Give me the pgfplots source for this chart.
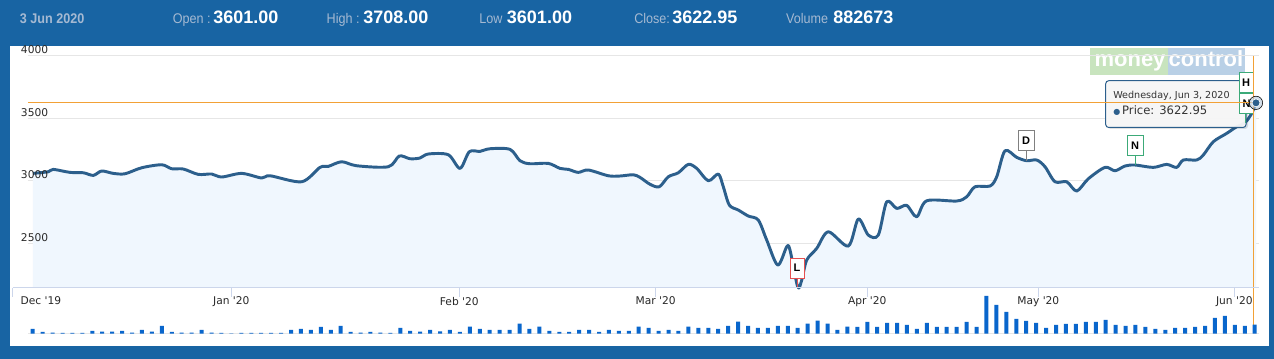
\documentclass[border=0pt]{standalone}
\usepackage{pgfplots}
\pgfplotsset{compat=1.18}
\usepackage{pgfplotstable}
\usepackage{fontspec}
\setmainfont{DejaVu Sans}
\newfontfamily\axf{DejaVu Sans}
\newfontfamily\hdr[FakeStretch=0.9]{Liberation Sans}
\newfontfamily\hdrv{Liberation Sans}
\newfontfamily\flagf{Liberation Sans}
\definecolor{frame}{RGB}{24,100,163}
\definecolor{hlab}{RGB}{165,185,210}
\definecolor{gridc}{RGB}{230,230,230}
\definecolor{axc}{RGB}{204,214,235}
\definecolor{areac}{RGB}{240,247,254}
\definecolor{linec}{RGB}{44,95,140}
\definecolor{volc}{RGB}{9,102,204}
\definecolor{orangec}{RGB}{242,161,54}
\definecolor{labc}{RGB}{40,40,40}
\definecolor{tipc}{RGB}{51,51,51}
\definecolor{tipbg}{RGB}{248,248,248}
\definecolor{flagr}{RGB}{230,80,80}
\definecolor{flagg}{RGB}{60,170,120}
\definecolor{flagd}{RGB}{128,128,128}
\definecolor{wmg}{RGB}{200,228,190}
\definecolor{wmb}{RGB}{185,208,230}
\definecolor{halo}{RGB}{175,195,215}

\pgfplotstableread{
px p
33 3059
48.3 3072
53.3 3091
70 3067
83.3 3064
93.3 3043
101.7 3078
113.3 3059
125 3056
141.7 3104
161.7 3128
171.7 3096
183.3 3094
198.3 3051
211.7 3054
221.7 3030
241.7 3059
261.7 3022
270 3040
301.7 2992
320 3107
328.3 3115
341.7 3152
356.7 3120
388.3 3112
399.3 3198
410 3176
420 3182
428.3 3214
448.3 3208
460 3099
469.3 3232
480 3235
490 3256
510 3251
520 3160
530 3136
548.3 3139
560 3099
568.3 3091
578.3 3067
588.3 3086
608.3 3040
620 3038
633.3 3048
640 3027
650 2972
659.3 2952
668.3 3032
678.3 3064
688.3 3131
696.7 3099
708.3 3000
718.3 3054
723.3 2952
729.3 2806
738.3 2766
748.3 2718
758.3 2686
766.7 2526
777.7 2326
786.7 2472
790 2446
797.7 2152
801.7 2206
806.7 2366
816.7 2459
828.3 2592
848.3 2478
858.3 2694
868.3 2566
878.3 2566
886.7 2832
896.7 2779
906.7 2803
916.7 2712
926.7 2840
956.7 2838
966.7 2872
975 2952
990 2958
996.7 3032
1005 3240
1016.7 3187
1026.7 3160
1036.7 3166
1045 3112
1055 2992
1066.7 2992
1076.7 2918
1088.3 3016
1105 3107
1115 3080
1125 3118
1135 3126
1153.3 3107
1166.7 3131
1176.7 3107
1183.3 3166
1196.7 3166
1203.3 3206
1213.3 3312
1226.7 3379
1236.7 3432
1245 3464
1251.7 3539
1256 3623
}\price

\pgfplotstableread{
k v
0 461
1 167
2 98
3 69
4 69
5 69
6 265
7 196
8 196
9 265
10 98
11 363
12 196
13 755
14 167
15 98
16 98
17 363
18 98
19 69
20 29
21 69
22 69
23 69
24 69
25 69
26 363
27 461
28 363
29 657
30 363
31 755
32 167
33 98
34 167
35 98
36 69
37 559
38 265
39 196
40 363
41 225
42 363
43 167
44 686
45 461
46 363
47 363
48 363
49 980
50 461
51 686
52 265
53 167
54 167
55 363
56 363
57 167
58 363
59 265
60 265
61 686
62 559
63 265
64 363
65 265
66 686
67 559
68 559
69 461
70 755
71 1176
72 755
73 559
74 559
75 755
76 755
77 559
78 980
79 1274
80 980
81 363
82 686
83 657
84 1147
85 657
86 1049
87 1049
88 853
89 461
90 1049
91 657
92 657
93 657
94 1147
95 657
96 3695
97 2813
98 2127
99 1441
100 1245
101 1049
102 559
103 853
104 951
105 951
106 1147
107 1147
108 1343
109 853
110 755
111 853
112 657
113 461
114 363
115 559
116 559
117 657
118 755
119 1539
120 1735
121 853
122 755
123 883
}\vol

\begin{document}
\begin{tikzpicture}
\begin{scope}[x=0.75pt,y=-0.75pt]
\path[use as bounding box] (0,0) rectangle (1274,359);
\fill[frame] (0,0) rectangle (1274,359);
\fill[white] (10,46) rectangle (1269,346);
% header
\node[anchor=base west, inner sep=0pt, text=hlab, font=\hdr\bfseries\fontsize{10.5}{12}\selectfont] at (19.6,23.5) {3 Jun 2020};
\node[anchor=base west, inner sep=0pt, text=hlab, font=\hdr\fontsize{10.5}{12}\selectfont] at (172.6,23.5) {Open :};
\node[anchor=base west, inner sep=0pt, text=white, font=\hdrv\bfseries\fontsize{13.5}{16}\selectfont] at (213,23.5) {3601.00};
\node[anchor=base west, inner sep=0pt, text=hlab, font=\hdr\fontsize{10.5}{12}\selectfont] at (326.4,23.5) {High :};
\node[anchor=base west, inner sep=0pt, text=white, font=\hdrv\bfseries\fontsize{13.5}{16}\selectfont] at (363,23.5) {3708.00};
\node[anchor=base west, inner sep=0pt, text=hlab, font=\hdr\fontsize{10.5}{12}\selectfont] at (479,23.5) {Low};
\node[anchor=base west, inner sep=0pt, text=white, font=\hdrv\bfseries\fontsize{13.5}{16}\selectfont] at (506.7,23.5) {3601.00};
\node[anchor=base west, inner sep=0pt, text=hlab, font=\hdr\fontsize{10.5}{12}\selectfont] at (634,23.5) {Close:};
\node[anchor=base west, inner sep=0pt, text=white, font=\hdrv\bfseries\fontsize{13.5}{16}\selectfont] at (672,23.5) {3622.95};
\node[anchor=base west, inner sep=0pt, text=hlab, font=\hdr\fontsize{10.5}{12}\selectfont] at (785.8,23.5) {Volume};
\node[anchor=base west, inner sep=0pt, text=white, font=\hdrv\bfseries\fontsize{13.5}{16}\selectfont] at (833,23.5) {882673};
% watermark
\fill[wmg] (1090,48) rectangle (1168,75);
\fill[wmb] (1168,48) rectangle (1245,75);
\node[anchor=base, inner sep=0pt, text=white, font=\hdrv\bfseries\fontsize{16.5}{18}\selectfont] at (1130,67) {money};
\node[anchor=base, inner sep=0pt, text=white, font=\hdrv\bfseries\fontsize{16.5}{18}\selectfont] at (1206,67) {control};
\end{scope}

\begin{axis}[
  at={(9.525pt,-215.775pt)}, anchor=south west,
  scale only axis, width=934.725pt, height=174pt,
  xmin=12.7, xmax=1259, ymin=2145, ymax=4000,
  clip=false, axis on top,
  axis x line*=bottom, axis y line*=left,
  x axis line style={draw=axc, line width=0.75pt, -},
  y axis line style={draw=none},
  xtick={12.7,231.3,459.3,655.7,867.3,1038.3,1234.3},
  xticklabels={{\makebox[0pt][l]{\hspace*{6pt}Dec '19}},{Jan '20},{Feb '20},{Mar '20},{Apr '20},{May '20},{Jun '20}},
  xtick style={draw=axc, line width=0.75pt},
  xtick align=outside, major tick length=6.75pt,
  xticklabel style={font=\axf\fontsize{8}{9.6}\selectfont, text=labc, anchor=north, inner sep=0pt},
  ytick={2500,3000,3500,4000}, yticklabels={2500,3000,3500,4000},
  ytick style={draw=none},
  yticklabel style={font=\axf\fontsize{8}{9.6}\selectfont, text=labc, anchor=base west, inner sep=0pt, xshift=6pt, yshift=1.5pt},
]
\pgfplotsinvokeforeach{2500,3000,3500,4000}{
  \draw[gridc, line width=0.75pt] (axis cs:28,#1) -- (axis cs:1259,#1);
}
\addplot[draw=none, fill=areac, smooth] table[x=px, y=p] {\price} \closedcycle;
\addplot[linec, line width=2.2pt, smooth, line join=round] table[x=px, y=p] {\price};
% tooltip
\fill[black, opacity=0.12, rounded corners=2.25pt] (axis cs:1107.5,3790) rectangle (axis cs:1248,3414);
\filldraw[fill=tipbg, fill opacity=0.95, draw=linec, line width=0.75pt, rounded corners=2.25pt] (axis cs:1105.7,3800) rectangle (axis cs:1246,3426);
\node[anchor=west, inner sep=0pt, text=tipc, font=\axf\fontsize{7.2}{8}\selectfont] at (axis cs:1113,3678) {Wednesday, Jun 3, 2020};
\node[anchor=west, inner sep=0pt, text=tipc, font=\axf\fontsize{8.7}{10}\selectfont] at (axis cs:1113,3558) {{\color{linec}\fontsize{6}{6}\selectfont ●}\,Price: 3622.95};
% flags
\draw[flagr, line width=0.75pt] (axis cs:797.7,2222) -- (axis cs:797.7,2152);
\node[draw=flagr, fill=white, line width=0.75pt, minimum width=10.5pt, minimum height=15pt, inner sep=0pt, font=\flagf\bfseries\fontsize{8.25}{9}\selectfont] at (axis cs:797,2302) {L};
\draw[flagd, line width=0.75pt] (axis cs:1026,3238) -- (axis cs:1026,3158);
\node[draw=flagd, fill=white, line width=0.75pt, minimum width=12pt, minimum height=15pt, inner sep=0pt, font=\flagf\bfseries\fontsize{8.25}{9}\selectfont] at (axis cs:1026,3318) {D};
\draw[flagg, line width=0.75pt] (axis cs:1135,3200) -- (axis cs:1135,3126);
\node[draw=flagg, fill=white, line width=0.75pt, minimum width=12pt, minimum height=15pt, inner sep=0pt, font=\flagf\bfseries\fontsize{8.25}{9}\selectfont] at (axis cs:1135,3280) {N};
\node[draw=flagg, fill=white, line width=0.75pt, minimum width=10.5pt, minimum height=15pt, inner sep=0pt, font=\flagf\bfseries\fontsize{8.25}{9}\selectfont] at (axis cs:1246,3782) {H};
\draw[flagg, line width=0.75pt] (axis cs:1245,3534) -- (axis cs:1245,3464);
\node[draw=flagg, fill=white, line width=0.75pt, minimum width=10pt, minimum height=15.5pt, inner sep=0pt, font=\flagf\bfseries\fontsize{8.25}{9}\selectfont] at (axis cs:1246.5,3618) {N};
% crosshairs
\draw[orangec, line width=0.75pt] (axis cs:28,3622.95) -- (axis cs:1259,3622.95);
\draw[orangec, line width=0.75pt] (axis cs:1253.5,4000) -- (axis cs:1253.5,1777);
% last point marker
\addplot[only marks, mark=*, mark size=5pt, mark options={fill=halo, draw=none, fill opacity=0.6}] coordinates {(1256,3622.95)};
\addplot[only marks, mark=*, mark size=3pt, mark options={fill=linec, draw=white, line width=0.5pt}] coordinates {(1256,3622.95)};
\end{axis}

\begin{axis}[
  at={(9.525pt,-250.275pt)}, anchor=south west,
  scale only axis, width=934.725pt, height=30pt,
  xmin=12.7, xmax=1259, ymin=0, ymax=3920,
  hide axis, clip=false,
]
\draw[gridc, line width=0.75pt] (axis cs:28,0) -- (axis cs:1259,0);
\addplot[ybar, bar width=3pt, fill=volc, draw=none] table[x expr=32.7+9.935*\coordindex, y=v] {\vol};
\end{axis}
\end{tikzpicture}
\end{document}
